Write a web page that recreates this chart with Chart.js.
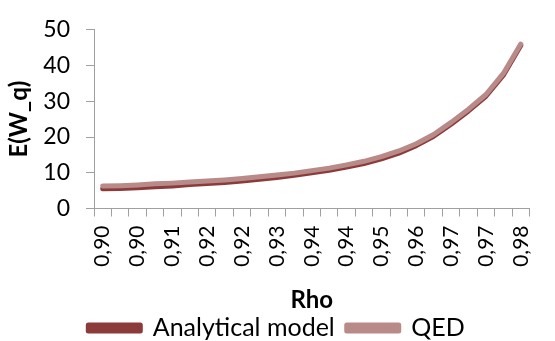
<!DOCTYPE html>
<html>
<head>
<meta charset="utf-8">
<script src="https://cdn.jsdelivr.net/npm/chart.js@4/dist/chart.umd.min.js"></script>
<style>
  html, body { margin: 0; padding: 0; background: #ffffff; }
  #wrap { width: 555px; height: 341px; }
</style>
</head>
<body>
<div id="wrap"><canvas id="chart" width="555" height="341"></canvas></div>
<script>
// Utilisation (rho) on the category axis; only every other label is printed
const rhoLabels = ['0,90','0,90','0,90','0,90','0,91','0,91','0,92','0,92','0,92','0,93','0,93','0,93','0,94',
                   '0,94','0,94','0,95','0,95','0,95','0,96','0,96','0,97','0,97','0,97','0,97','0,98'];

// Expected waiting time in queue, E(W_q)
const analyticalModel = [5.5, 5.6, 5.8, 6.1, 6.3, 6.7, 7.0, 7.3, 7.7, 8.2, 8.7, 9.3, 10.0,
                         10.7, 11.6, 12.6, 13.9, 15.5, 17.6, 20.2, 23.6, 27.3, 31.4, 37.3, 45.6];
const qed = [6.3, 6.4, 6.6, 6.9, 7.1, 7.4, 7.7, 8.0, 8.4, 8.9, 9.4, 9.9, 10.6,
             11.3, 12.2, 13.2, 14.5, 16.1, 18.1, 20.7, 24.1, 27.8, 31.9, 37.8, 46.0];

const yTicks = { min: 0, max: 50, step: 10 };

const axisGrey = '#A0A0A0';
const colAnalytical = '#8C3B3B';
const colQed = '#B88B89';

Chart.defaults.font.family = 'Lato';
Chart.defaults.color = '#000000';

// QED is listed first so that it is painted over the analytical curve;
// the legend is reversed to keep "Analytical model" first.
new Chart(document.getElementById('chart'), {
  type: 'line',
  data: {
    labels: rhoLabels,
    datasets: [
      {
        label: 'QED',
        data: qed,
        borderColor: colQed,
        backgroundColor: colQed,
        borderWidth: 5,
        borderCapStyle: 'round',
        borderJoinStyle: 'round',
        pointRadius: 0,
        tension: 0,
        fill: false
      },
      {
        label: 'Analytical model',
        data: analyticalModel,
        borderColor: colAnalytical,
        backgroundColor: colAnalytical,
        borderWidth: 5,
        borderCapStyle: 'round',
        borderJoinStyle: 'round',
        pointRadius: 0,
        tension: 0,
        fill: false
      }
    ]
  },
  options: {
    responsive: false,
    animation: false,
    devicePixelRatio: 1,
    layout: { padding: { top: 15, right: 2, left: 0, bottom: -9.5 } },
    plugins: {
      tooltip: { enabled: false },
      legend: {
        position: 'bottom',
        reverse: true,
        labels: {
          font: { size: 25 },
          color: '#000000',
          boxWidth: 52,
          boxHeight: 6,
          padding: 12
        }
      }
    },
    scales: {
      x: {
        type: 'category',
        offset: true,
        grid: { offset: true, drawOnChartArea: false, tickLength: 8, color: axisGrey, lineWidth: 1 },
        border: { color: axisGrey, width: 1 },
        ticks: {
          autoSkip: false,
          minRotation: 90,
          maxRotation: 90,
          padding: 9,
          font: { size: 21 },
          callback: function (value, index) {
            return index % 2 === 0 ? this.getLabelForValue(value) : '';
          }
        },
        title: {
          display: true,
          text: 'Rho',
          font: { size: 24, weight: 'bold' },
          padding: { top: 0, bottom: -11.5 }
        },
        afterFit: function (scale) { scale.height = 95; }
      },
      y: {
        min: yTicks.min,
        max: yTicks.max,
        grid: { drawOnChartArea: false, tickLength: 8, color: axisGrey, lineWidth: 1 },
        border: { color: axisGrey, width: 1 },
        ticks: {
          stepSize: yTicks.step,
          padding: 16,
          font: { size: 23 }
        },
        title: {
          display: true,
          text: 'E(W_q)',
          font: { size: 24, weight: 'bold' },
          padding: { top: 5, bottom: 0 }
        },
        afterFit: function (scale) { scale.width = 94; }
      }
    }
  }
});
</script>
</body>
</html>
